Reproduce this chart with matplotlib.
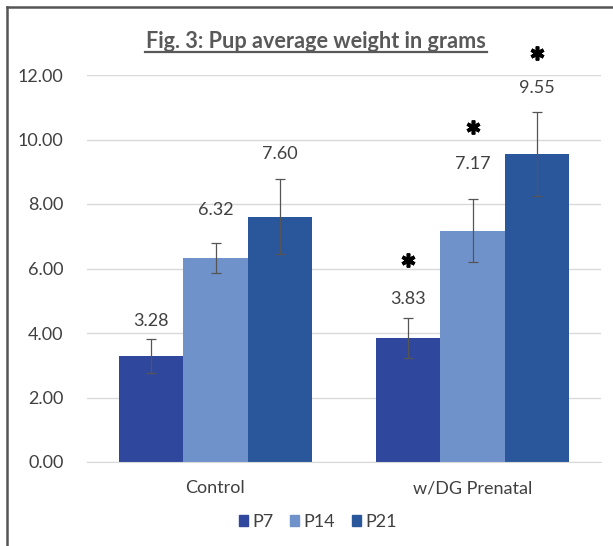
import matplotlib
matplotlib.use("Agg")
import matplotlib.pyplot as plt
from matplotlib.lines import Line2D
from matplotlib.patches import Rectangle
import numpy as np

categories = ["Control", "w/DG Prenatal"]
series = ["P7", "P14", "P21"]
p7 = [3.28, 3.83]
p14 = [6.32, 7.17]
p21 = [7.60, 9.55]
p7_err = [0.53, 0.62]
p14_err = [0.47, 0.98]
p21_err = [1.16, 1.30]
significant = [[False, True], [False, True], [False, True]]
yticks = [0, 2, 4, 6, 8, 10, 12]

values = [p7, p14, p21]
errors = [p7_err, p14_err, p21_err]
colors = ["#2F489D", "#7092CB", "#2A579B"]
# label baseline offsets above error-bar top (points), per series per category
label_offsets = [[9.4, 10.4], [20.2, 22.0], [14.8, 14.0]]
# asterisk centre offsets above error-bar top (points)
star_offsets = [[0, 42], [0, 52], [0, 42.5]]

plt.rcParams['font.family'] = ['Lato', 'DejaVu Sans']
fig = plt.figure(figsize=(6.13, 5.46), dpi=100)
ax = fig.add_axes([87/613, 1-462/546, (601-87)/613, (462-75)/546])

x = np.arange(len(categories))
w = 0.25
for i, s in enumerate(series):
    xs = x + (i - 1) * w
    ax.bar(xs, values[i], width=w, color=colors[i], label=s, zorder=2)
    ax.errorbar(xs, values[i], yerr=errors[i], fmt='none', ecolor='#555555',
                elinewidth=0.9, capsize=3.5, capthick=0.9, zorder=3)
    for j in range(len(categories)):
        top = values[i][j] + errors[i][j]
        ax.annotate(f"{values[i][j]:.2f}", (xs[j], top), xytext=(0, label_offsets[i][j]),
                    textcoords='offset points', ha='center', va='baseline',
                    fontsize=13, color='#404040')
        if significant[i][j]:
            ax.annotate("", (xs[j], top), xytext=(0, 0), textcoords='offset points')
            ax.plot([xs[j]], [top], linestyle='none', marker=(6, 2, 0), markersize=10,
                    markeredgewidth=2.6, color='black', zorder=4,
                    transform=ax.transData + matplotlib.transforms.ScaledTranslation(
                        0, star_offsets[i][j] / 72, fig.dpi_scale_trans),
                    clip_on=False)

ax.set_xlim(-0.5, 1.5)
ax.set_ylim(0, 12)
ax.set_yticks(yticks)
ax.set_yticklabels([f"{t:.2f}" for t in yticks])
ax.set_xticks(x)
ax.set_xticklabels(categories)
ax.tick_params(axis='both', length=0, labelsize=13, labelcolor='#404040')
ax.tick_params(axis='y', pad=17)
ax.tick_params(axis='x', pad=13)
ax.yaxis.grid(True, color='#D9D9D9', linewidth=1, zorder=0)
ax.set_axisbelow(True)
for sp in ['top', 'right', 'left']:
    ax.spines[sp].set_visible(False)
ax.spines['bottom'].set_color('#D9D9D9')

fig.text(316/613, 1-48/546, "Fig. 3: Pup average weight in grams", ha='center', va='baseline',
         fontsize=15.6, fontweight='bold', color='#595959')
# underline
fig.add_artist(Line2D([145/613, 487/613], [1-52/546, 1-52/546], color='#595959', linewidth=1.6))

handles = [Rectangle((0, 0), 1, 1, color=c) for c in colors]
fig.legend(handles, series, loc='center', bbox_to_anchor=(318/613, 1-522/546), ncol=3,
           frameon=False, fontsize=13, handlelength=0.5, handleheight=0.5,
           handletextpad=0.25, columnspacing=0.9, labelcolor='#404040')

# frame lines
fig.add_artist(Line2D([7/613, 1], [1-7/546, 1-7/546], color='#555555', linewidth=1.8))
fig.add_artist(Line2D([7/613, 7/613], [0, 1-7/546], color='#555555', linewidth=1.8))

fig.savefig("out.png", dpi=100)
